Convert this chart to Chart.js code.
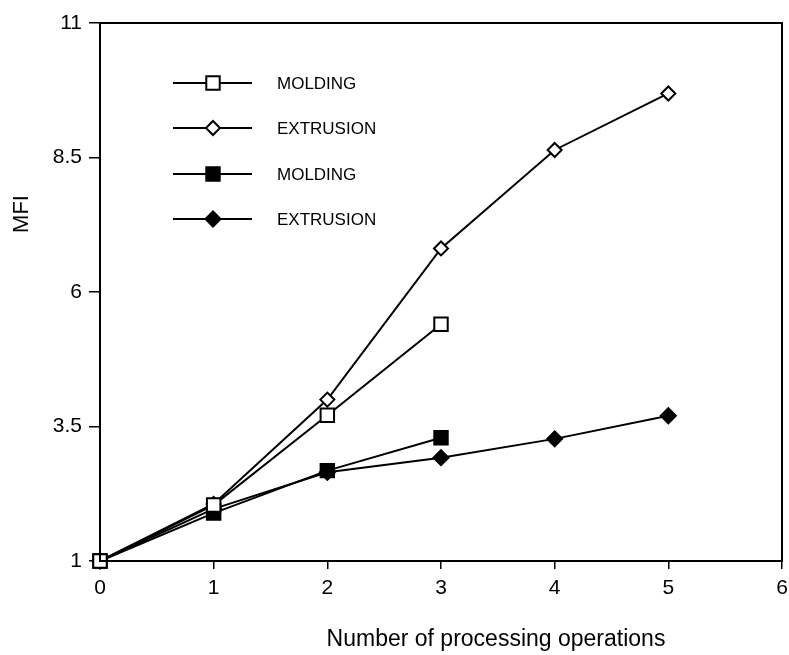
<!DOCTYPE html>
<html>
<head>
<meta charset="utf-8">
<script src="https://cdn.jsdelivr.net/npm/chart.js@4/dist/chart.umd.min.js"></script>
<style>
  html, body { margin: 0; padding: 0; background: #fff; }
  #wrap { width: 789px; height: 655px; }
</style>
</head>
<body>
<div id="wrap"><canvas id="c" width="789" height="655"></canvas></div>
<script>
// ---- data ----
const operations = [0, 1, 2, 3, 4, 5];
const moldingOpen = [1, 2.04, 3.71, 5.40];
const extrusionOpen = [1, 2.06, 4.00, 6.81, 8.64, 9.69];
const moldingFilled = [1, 1.89, 2.68, 3.29];
const extrusionFilled = [1, 1.97, 2.65, 2.92, 3.27, 3.70];
const yTicks = [1, 3.5, 6, 8.5, 11];
const xTicks = [0, 1, 2, 3, 4, 5, 6];
const seriesLabels = ['MOLDING', 'EXTRUSION', 'MOLDING', 'EXTRUSION'];
const xTitle = 'Number of processing operations';
const yTitle = 'MFI';

const FONT = '"Liberation Sans", Arial, Helvetica, sans-serif';

function pts(vals) { return vals.map((v, i) => ({ x: operations[i], y: v })); }

function ds(label, vals, style, filled, radius) {
  return {
    label: label,
    data: pts(vals),
    borderColor: '#000',
    borderWidth: 2,
    backgroundColor: filled ? '#000' : '#fff',
    pointStyle: style,
    pointRadius: radius,
    pointHoverRadius: radius,
    pointBorderWidth: 2,
    pointBorderColor: '#000',
    pointBackgroundColor: filled ? '#000' : '#fff',
    tension: 0,
    fill: false,
    clip: false
  };
}

const datasets = [
  ds(seriesLabels[0], moldingOpen, 'rect', false, 9.5),
  ds(seriesLabels[1], extrusionOpen, 'rectRot', false, 7),
  ds(seriesLabels[2], moldingFilled, 'rect', true, 9.5),
  ds(seriesLabels[3], extrusionFilled, 'rectRot', true, 7.5)
];

const decor = {
  id: 'decor',
  afterDraw(chart) {
    const ctx = chart.ctx;
    const a = chart.chartArea;
    ctx.save();
    // frame
    ctx.strokeStyle = '#000';
    ctx.lineWidth = 2;
    ctx.strokeRect(a.left, a.top, a.right - a.left, a.bottom - a.top);
    // legend (inside plot)
    const rowsY = [83, 128, 174, 219];
    chart.data.datasets.forEach((d, i) => {
      const y = rowsY[i];
      ctx.strokeStyle = '#000';
      ctx.lineWidth = 2;
      ctx.beginPath();
      ctx.moveTo(173, y);
      ctx.lineTo(252, y);
      ctx.stroke();
      ctx.fillStyle = d.pointBackgroundColor;
      ctx.strokeStyle = '#000';
      ctx.lineWidth = 2;
      Chart.helpers.drawPoint(ctx, { pointStyle: d.pointStyle, radius: d.pointRadius, rotation: 0, borderWidth: 2 }, 213, y);
      ctx.fillStyle = '#000';
      ctx.font = '17px ' + FONT;
      ctx.textAlign = 'left';
      ctx.textBaseline = 'middle';
      ctx.fillText(d.label, 277, y + 1);
    });
    // axis titles
    ctx.fillStyle = '#000';
    ctx.textAlign = 'center';
    ctx.textBaseline = 'middle';
    ctx.font = '23px ' + FONT;
    ctx.fillText(xTitle, 496, 640);
    ctx.font = '22px ' + FONT;
    ctx.translate(22, 214);
    ctx.rotate(-Math.PI / 2);
    ctx.fillText(yTitle, 0, 0);
    ctx.restore();
  }
};

new Chart(document.getElementById('c'), {
  type: 'line',
  data: { datasets: datasets },
  options: {
    responsive: false,
    animation: false,
    events: [],
    layout: { autoPadding: false, padding: { top: 23, right: 7, left: 0, bottom: 0 } },
    plugins: { legend: { display: false }, tooltip: { enabled: false }, title: { display: false } },
    scales: {
      x: {
        type: 'linear',
        min: 0, max: 6,
        afterFit(s) { s.height = 94; s.paddingLeft = 0; s.paddingRight = 0; },
        afterBuildTicks(s) { s.ticks = xTicks.map(v => ({ value: v })); },
        ticks: { color: '#000', font: { family: FONT, size: 21 }, padding: 7, maxRotation: 0, autoSkip: false },
        grid: { display: true, drawOnChartArea: false, drawTicks: true, tickLength: 8, color: '#000', lineWidth: 1.5 },
        border: { display: true, color: '#000', width: 2 },
        title: { display: false }
      },
      y: {
        type: 'linear',
        min: 1, max: 11,
        afterFit(s) { s.width = 100; s.paddingTop = 0; s.paddingBottom = 0; },
        afterBuildTicks(s) { s.ticks = yTicks.map(v => ({ value: v })); },
        ticks: { color: '#000', font: { family: FONT, size: 21 }, padding: 7, autoSkip: false,
                 callback: v => String(v) },
        grid: { display: true, drawOnChartArea: false, drawTicks: true, tickLength: 11, color: '#000', lineWidth: 1.5 },
        border: { display: true, color: '#000', width: 2 },
        title: { display: false }
      }
    }
  },
  plugins: [decor]
});
</script>
</body>
</html>
